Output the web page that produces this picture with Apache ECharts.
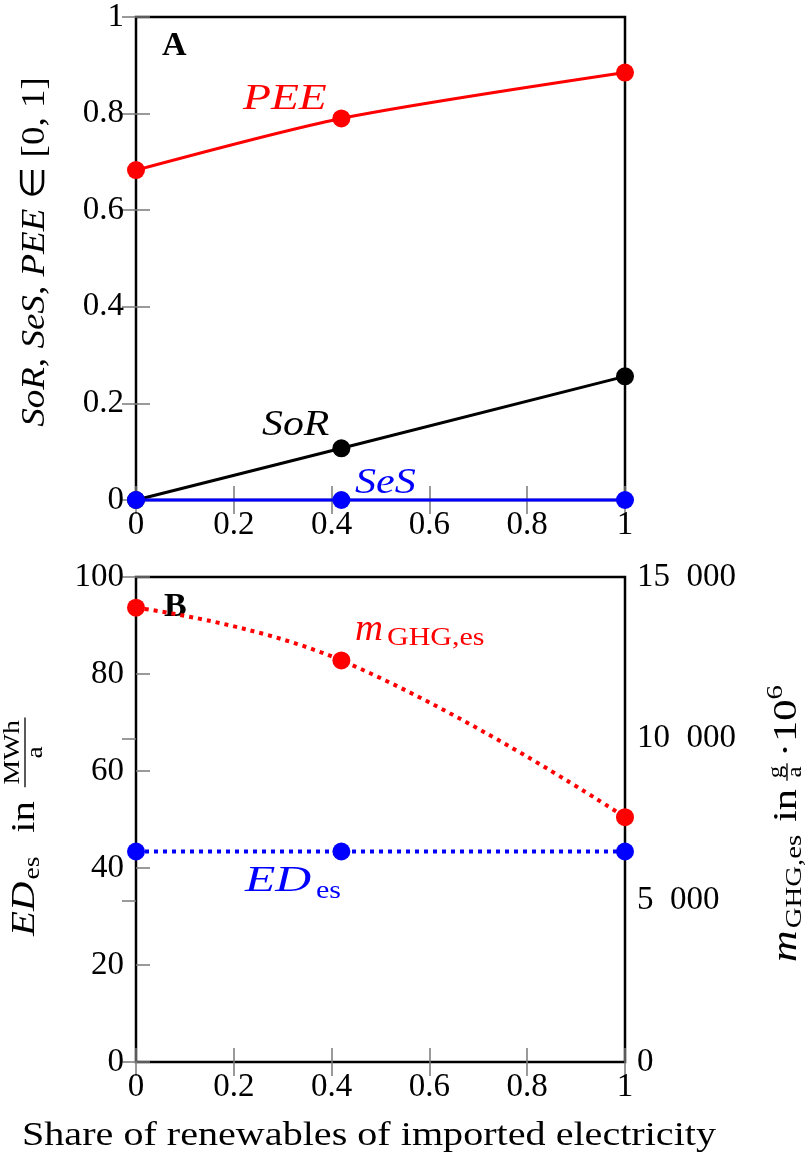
<!DOCTYPE html>
<html>
<head>
<meta charset="utf-8">
<script src="https://cdn.jsdelivr.net/npm/echarts@6/dist/echarts.min.js"></script>
<style>
  html, body { margin: 0; padding: 0; background: #fff; }
  #chart { width: 808px; height: 1156px; }
</style>
</head>
<body>
<div id="chart"></div>
<script>
// shared x values (share of renewables)
const shareRenewables = [0, 0.42, 1];

// panel A
const peeValues = [0.683, 0.79, 0.885];
const sorValues = [0, 0.107, 0.256];
const sesValues = [0, 0, 0];

// panel B
const edValues = [43.4, 43.4, 43.4];          // MWh/a, left axis
const ghgValues = [14050, 12420, 7570];       // g/a * 1e6, right axis

const FONT = "Liberation Serif";
const RED = "#ff0000";
const BLUE = "#0000ff";
const TICK = "#7a7a7a";
const LABEL_SIZE = 33;

const pairs = (ys) => shareRenewables.map((x, i) => [x, ys[i]]);

const decLabel = (v) => (v === 0 || v === 1 ? String(v) : v.toFixed(1));
const thousands = (v) => String(v).replace(/\B(?=(\d{3})+(?!\d))/g, "\u2002");

function xAxisFor(grid, position, labels) {
  return {
    type: "value",
    gridIndex: grid,
    position,
    min: 0,
    max: 1,
    interval: 0.2,
    axisLine: { show: false },
    axisTick: { show: true, inside: true, length: 14, lineStyle: { color: TICK, width: 1.5 } },
    axisLabel: labels
      ? { show: true, formatter: decLabel, color: "#000", fontFamily: FONT, fontSize: LABEL_SIZE, margin: 9 }
      : { show: false },
    splitLine: { show: false },
  };
}

function yAxisFor(grid, position, min, max, interval, labels, formatter) {
  return {
    type: "value",
    gridIndex: grid,
    position,
    min,
    max,
    interval,
    axisLine: { show: false },
    axisTick: { show: true, inside: true, length: 14, lineStyle: { color: TICK, width: 1.5 } },
    axisLabel: labels
      ? { show: true, formatter, color: "#000", fontFamily: FONT, fontSize: LABEL_SIZE, margin: 12 }
      : { show: false },
    splitLine: { show: false },
  };
}

function lineSeries(name, xi, yi, data, color, dotted, smooth) {
  return {
    name,
    type: "line",
    xAxisIndex: xi,
    yAxisIndex: yi,
    data,
    smooth: smooth || false,
    clip: false,
    symbol: "circle",
    symbolSize: 18,
    itemStyle: { color },
    lineStyle: dotted
      ? { color, width: 4, type: [4, 5], cap: "butt" }
      : { color, width: 3 },
    z: 5,
  };
}

// small text helpers for the graphic layer
const txt = (text, x, y, size, color, extra) => ({
  type: "text",
  x,
  y,
  style: Object.assign(
    { text, fill: color || "#000", font: `${size}px "${FONT}"`, verticalAlign: "middle", align: "left" },
    extra || {}
  ),
});
const ital = (text, x, y, size, color, extra) =>
  txt(text, x, y, size, color, Object.assign({ font: `italic ${size}px "${FONT}"` }, extra || {}));
// widen glyphs a little, Computer Modern runs wider than Times
const stretched = (el, sx) => Object.assign(el, { scaleX: sx });
const bar = (x1, x2, y) => ({ type: "line", shape: { x1, y1: y, x2, y2: y }, style: { stroke: "#000", lineWidth: 1.3 } });

const chart = echarts.init(document.getElementById("chart"), null, { renderer: "canvas" });

chart.setOption({
  animation: false,
  backgroundColor: "#fff",
  grid: [
    { left: 136, top: 17, width: 489, height: 483, show: true, borderColor: "#000", borderWidth: 2.5, backgroundColor: "transparent" },
    { left: 136, top: 577, width: 489, height: 485, show: true, borderColor: "#000", borderWidth: 2.5, backgroundColor: "transparent" },
  ],
  xAxis: [
    xAxisFor(0, "bottom", true),
    xAxisFor(0, "top", false),
    xAxisFor(1, "bottom", true),
    xAxisFor(1, "top", false),
  ],
  yAxis: [
    yAxisFor(0, "left", 0, 1, 0.2, true, decLabel),
    yAxisFor(0, "right", 0, 1, 0.2, false),
    yAxisFor(1, "left", 0, 100, 20, true, (v) => String(v)),
    yAxisFor(1, "right", 0, 15000, 5000, true, thousands),
  ],
  series: [
    lineSeries("PEE", 0, 0, pairs(peeValues), RED, false, 0.25),
    lineSeries("SoR", 0, 0, pairs(sorValues), "#000", false),
    lineSeries("SeS", 0, 0, pairs(sesValues), BLUE, false),
    lineSeries("ED_es", 2, 2, pairs(edValues), BLUE, true),
    lineSeries("m_GHG,es", 2, 3, pairs(ghgValues), RED, true, 0.45),
  ],
  graphic: [
    // panel letters
    txt("A", 162, 46, 34, "#000", { font: `bold 34px "${FONT}"` }),
    txt("B", 164, 607, 34, "#000", { font: `bold 34px "${FONT}"` }),

    // series annotations
    stretched(ital("PEE", 243, 100, 36, RED), 1.27),
    stretched(ital("SoR", 262, 426, 36, "#000"), 1.16),
    stretched(ital("SeS", 355, 484, 36, BLUE), 1.17),
    stretched(ital("m", 355, 630, 37, RED), 1.05),
    stretched(txt("GHG,es", 387, 638, 25, RED), 1.2),
    stretched(ital("ED", 245, 882, 36, BLUE), 1.38),
    stretched(txt("es", 316, 891, 25, BLUE), 1.2),

    // x axis title
    stretched(txt("Share of renewables of imported electricity", 22, 1136, 34), 1.18),

    // y axis title of panel A
    {
      type: "group",
      x: 35,
      y: 252,
      rotation: Math.PI / 2,
      scaleX: 1.09,
      children: [
        {
          type: "text",
          x: 0,
          y: 0,
          style: {
            text: "{i|SoR}, {i|SeS}, {i|PEE} \u2208 [0, 1]",
            font: `34px "${FONT}"`,
            fill: "#000",
            align: "center",
            verticalAlign: "middle",
            rich: { i: { fontFamily: FONT, fontSize: 34, fontStyle: "italic", color: "#000" } },
          },
        },
      ],
    },

    // left axis title of panel B
    {
      type: "group",
      x: 25,
      y: 936,
      rotation: Math.PI / 2,
      scaleX: 1.2,
      children: [
        ital("ED", 0, 0, 34),
        txt("es", 47, 8, 23),
        txt("in", 86, 0, 34),
        txt("MWh", 153, -12, 23, "#000", { align: "center" }),
        bar(124, 182, 0),
        txt("a", 153, 11, 23, "#000", { align: "center" }),
      ],
    },

    // right axis title of panel B
    {
      type: "group",
      x: 787,
      y: 962,
      rotation: Math.PI / 2,
      scaleX: 1.25,
      children: [
        ital("m", 0, 0, 35),
        txt("GHG,es", 27, 8, 23),
        txt("in", 112, 0, 34),
        txt("g", 152, -10, 20, "#000", { align: "center" }),
        bar(145, 159, 0),
        txt("a", 152, 9, 20, "#000", { align: "center" }),
        txt("\u00b7", 164, 0, 34),
        txt("10", 176, 0, 34),
        txt("6", 210, -11, 23),
      ],
    },
  ],
});
</script>
</body>
</html>
